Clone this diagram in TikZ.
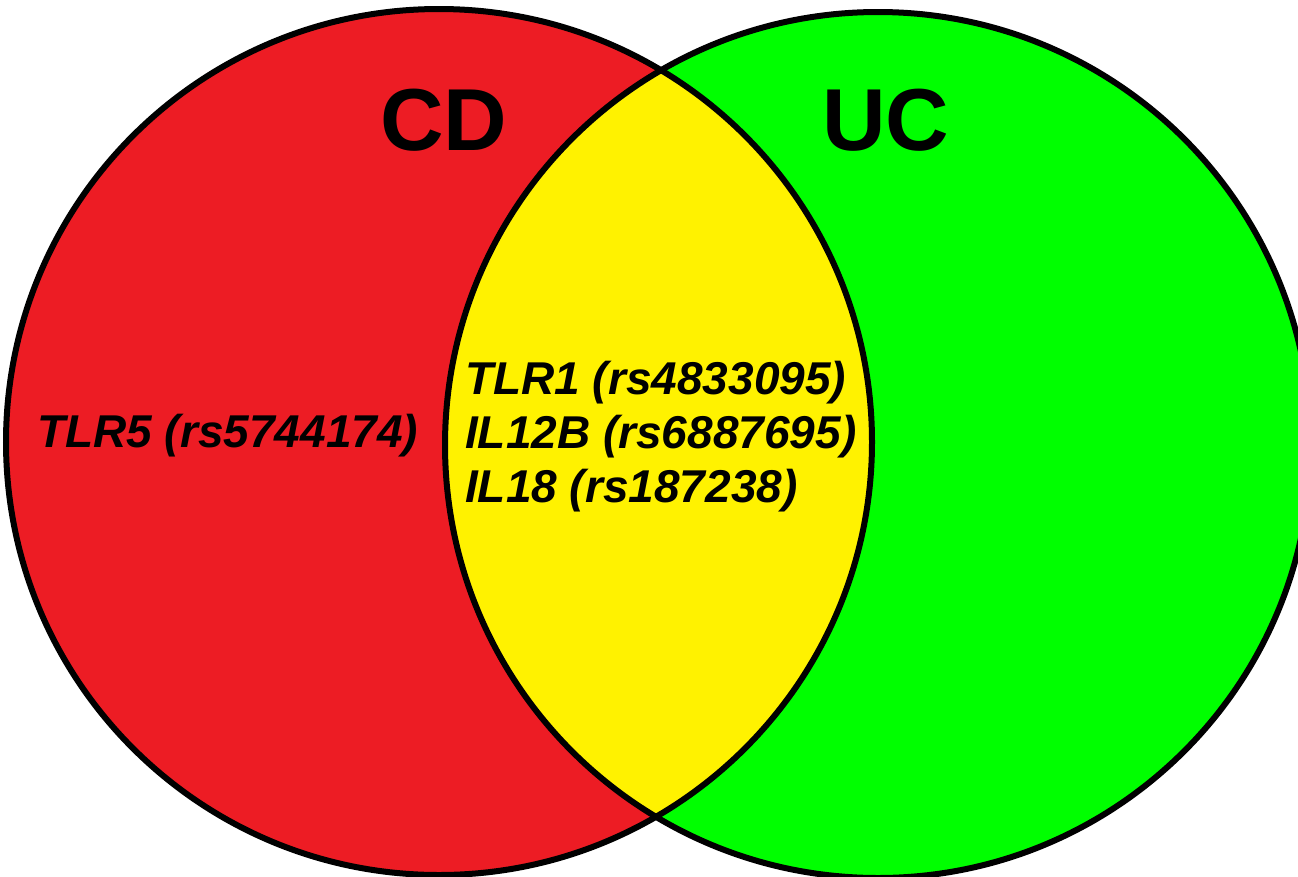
\documentclass[tikz,border=0pt]{standalone}
\usepackage{fontspec}
\setmainfont{Liberation Sans}
\definecolor{cdred}{HTML}{ED1C24}
\definecolor{ucgreen}{HTML}{00FF00}
\definecolor{bothyellow}{HTML}{FFF200}
\begin{document}
\begin{tikzpicture}[x=1pt,y=-1pt,
  outline/.style={draw=black,line width=6pt},
  setlabel/.style={anchor=base west,inner sep=0pt,font=\fontsize{88}{88}\selectfont\bfseries},
  genelabel/.style={anchor=base west,inner sep=0pt,font=\fontsize{46}{55}\selectfont\bfseries\itshape}]
  \useasboundingbox (0,0) rectangle (1298,876);
  \clip (0,0) rectangle (1298,876);
  % circle centres and radii
  \coordinate (cL) at (439,442);
  \coordinate (cR) at (878,445);
  \def\radL{433}
  \def\radR{433}
  % set fills
  \fill[cdred] (cL) circle[radius=\radL];
  \fill[ucgreen] (cR) circle[radius=\radR];
  \begin{scope}
    \clip (cL) circle[radius=\radL];
    \fill[bothyellow] (cR) circle[radius=\radR];
  \end{scope}
  % outlines
  \draw[outline] (cL) circle[radius=\radL];
  \draw[outline] (cR) circle[radius=\radR];
  % set names
  \node[setlabel] (cd) at (380,150) {CD};
  \node[setlabel] (uc) at (822,150) {UC};
  % genes
  \node[genelabel] (tlr5) at (37,447) {TLR5 (rs5744174)};
  \node[genelabel] (tlr1) at (465,394) {TLR1 (rs4833095)};
  \node[genelabel] (il12b) at (465,448) {IL12B (rs6887695)};
  \node[genelabel] (il18) at (465,502) {IL18 (rs187238)};
\end{tikzpicture}
\end{document}
